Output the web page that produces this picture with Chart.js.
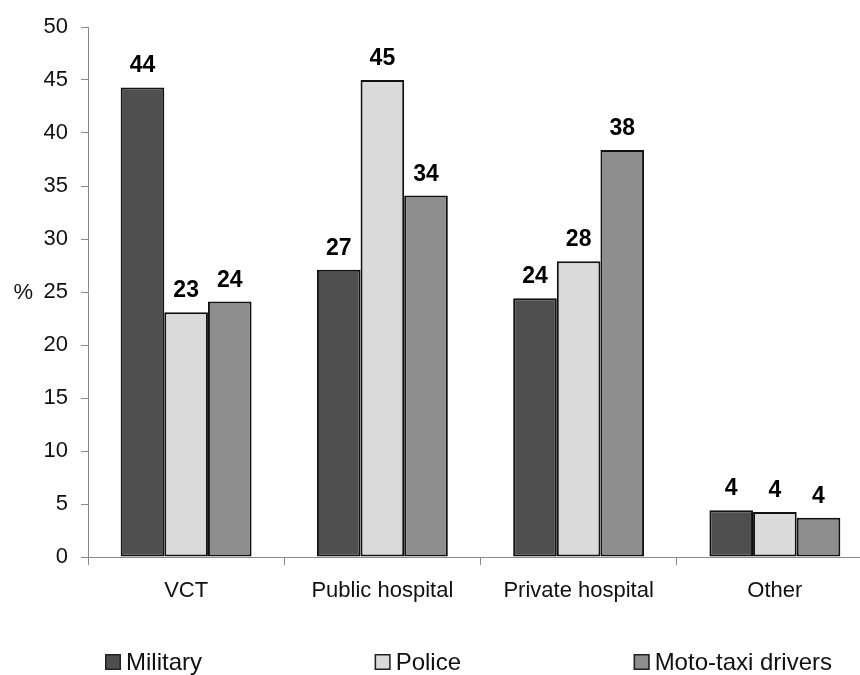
<!DOCTYPE html>
<html>
<head>
<meta charset="utf-8">
<title>HIV testing site by group</title>
<script src="https://cdn.jsdelivr.net/npm/chart.js@4/dist/chart.umd.min.js"></script>
<style>
  html, body { margin: 0; padding: 0; background: #fff; overflow: hidden; }
  #wrap { width: 880px; height: 675px; }
</style>
</head>
<body>
<div id="wrap"><canvas id="chart" width="880" height="675"></canvas></div>
<script>
// Where each group went for testing, in percent
const categories = ['VCT', 'Public hospital', 'Private hospital', 'Other'];
const seriesNames = ['Military', 'Police', 'Moto-taxi drivers'];
const military = [44.3, 27.1, 24.4, 4.4];
const police = [23.1, 45.0, 27.9, 4.25];
const motoTaxi = [24.1, 34.1, 38.4, 3.7];
const yMin = 0, yMax = 50, yStep = 5;
const yTitle = '%';

const seriesColors = ['#4f4f4f', '#dadada', '#8e8e8e'];
const FONT = "'Liberation Sans', Arial, sans-serif";
Chart.defaults.font.family = FONT;
Chart.defaults.color = '#111';

// Rounded value printed above each bar
const valueLabels = {
  id: 'valueLabels',
  afterDatasetsDraw(chart) {
    const ctx = chart.ctx;
    ctx.save();
    ctx.font = 'bold 23px ' + FONT;
    ctx.fillStyle = '#000';
    ctx.textAlign = 'center';
    ctx.textBaseline = 'alphabetic';
    chart.data.datasets.forEach((ds, i) => {
      chart.getDatasetMeta(i).data.forEach((bar, j) => {
        ctx.fillText(String(Math.round(ds.data[j])), bar.x, bar.y - 15);
      });
    });
    ctx.restore();
  }
};

// Horizontal "%" beside the y axis, level with the middle tick
const axisUnit = {
  id: 'axisUnit',
  afterDraw(chart) {
    const ctx = chart.ctx;
    const y = chart.scales.y.getPixelForValue((yMin + yMax) / 2);
    ctx.save();
    ctx.font = '22px ' + FONT;
    ctx.fillStyle = '#111';
    ctx.textAlign = 'right';
    ctx.textBaseline = 'middle';
    ctx.fillText(yTitle, 33, y + 1);
    ctx.restore();
  }
};

// Legend row spread across the bottom of the canvas
const spreadLegend = {
  id: 'spreadLegend',
  afterDraw(chart) {
    const ctx = chart.ctx;
    const left = 105, right = 832, y = 662, box = 16, gap = 5;
    ctx.save();
    ctx.font = '24px ' + FONT;
    const items = chart.data.datasets.map(ds => ({
      text: ds.label, color: ds.backgroundColor,
      w: box + gap + ctx.measureText(ds.label).width
    }));
    const total = items.reduce((s, it) => s + it.w, 0);
    const space = (right - left - total) / (items.length - 1);
    let x = left;
    items.forEach(it => {
      ctx.fillStyle = it.color;
      ctx.fillRect(x, y - box / 2, box, box);
      ctx.strokeStyle = '#222';
      ctx.lineWidth = 1.5;
      ctx.strokeRect(x + 0.75, y - box / 2 + 0.75, box - 1.5, box - 1.5);
      ctx.fillStyle = '#111';
      ctx.textAlign = 'left';
      ctx.textBaseline = 'middle';
      ctx.fillText(it.text, x + box + gap, y + 1);
      x += it.w + space;
    });
    ctx.restore();
  }
};

const seriesValues = [military, police, motoTaxi];

new Chart(document.getElementById('chart'), {
  type: 'bar',
  data: {
    labels: categories,
    datasets: seriesNames.map((name, i) => ({
      label: name,
      data: seriesValues[i],
      backgroundColor: seriesColors[i],
      borderColor: '#111',
      borderWidth: 2,
      borderSkipped: false,
      categoryPercentage: 0.667,
      barPercentage: 1.0
    }))
  },
  options: {
    responsive: false,
    animation: false,
    devicePixelRatio: 1,
    layout: { padding: { top: 27, right: 7, bottom: 0, left: 0 } },
    plugins: {
      legend: { display: false },
      tooltip: { enabled: false }
    },
    scales: {
      x: {
        grid: { offset: true, drawOnChartArea: false, drawTicks: true, tickLength: 8, color: '#8a8a8a' },
        border: { color: '#8a8a8a', width: 1 },
        ticks: { font: { size: 22 }, color: '#111', padding: 13, maxRotation: 0, autoSkip: false },
        afterFit(scale) { scale.height = 118; }
      },
      y: {
        min: yMin,
        max: yMax,
        grid: { drawOnChartArea: false, drawTicks: true, tickLength: 7, color: '#8a8a8a' },
        border: { color: '#8a8a8a', width: 1 },
        ticks: { stepSize: yStep, font: { size: 22 }, color: '#111', padding: 13 },
        afterFit(scale) { scale.width = 88; }
      }
    }
  },
  plugins: [valueLabels, axisUnit, spreadLegend]
});
</script>
</body>
</html>
